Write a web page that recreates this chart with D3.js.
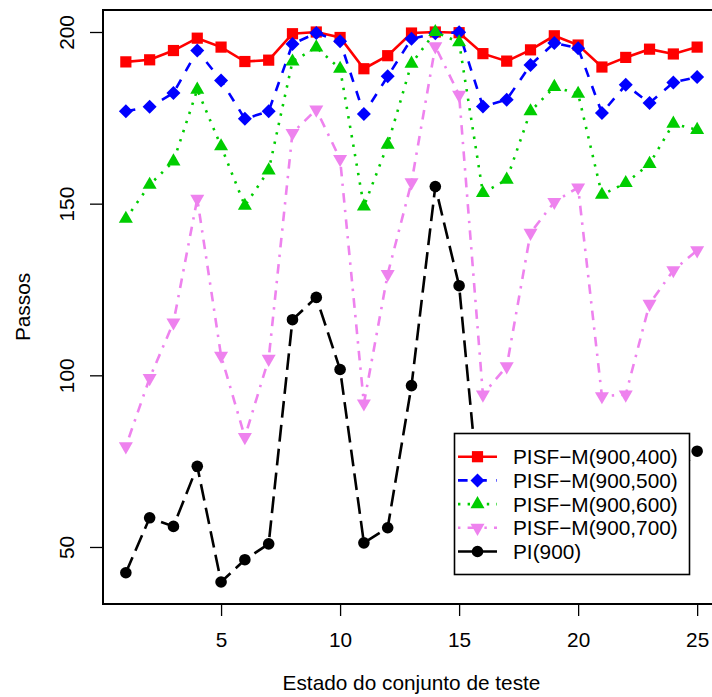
<!DOCTYPE html>
<html>
<head>
<meta charset="utf-8">
<script src="https://cdn.jsdelivr.net/npm/d3@7"></script>
<style>
  body { margin: 0; background: #fff; }
  text { font-family: "Liberation Sans", Arial, Helvetica, sans-serif; fill: #000; }
</style>
</head>
<body>
<svg id="chart"></svg>
<script>
/* dados */
const estados = d3.range(1, 26)
const pisf400 = [191.3,191.9,194.6,198.2,195.6,191.4,191.8,199.5,200,198.4,189.3,193.1,199.7,200,199.8,193.7,191.5,194.8,198.9,196.2,189.8,192.6,195,193.6,195.6]
const pisf500 = [176.9,178.2,182.2,194.6,185.9,174.7,176.9,196.5,199.7,197.3,176.1,187.1,198,199.6,199.9,178.3,180.3,190.4,196.8,195.3,176.4,184.6,179.3,185.3,186.9]
const pisf600 = [145.6,155.5,162.3,183.2,166.7,149.4,159.7,191.4,195.5,189.3,149.2,167.2,190.8,200,197,153.1,157,176.9,184,182,152.6,156,161.6,173.3,171.5]
const pisf700 = [79.3,99.2,115.4,151.4,105.7,82,104.8,170.6,177.4,163,91.8,129.5,156.2,195.8,181.7,94.4,102.6,141.5,150.5,154.7,93.9,94.4,120.8,130.6,136.4]
const pi900   = [42.5,58.5,56,73.5,39.8,46.3,50.9,116.2,122.7,101.7,51.2,55.6,97,155,126.1,53,48,55,62,58,48,50,60,70.5,77.9]

const xTicks = [5, 10, 15, 20, 25]
const yTicks = [50, 100, 150, 200]
const legendLabels = ['PISF\u2212M(900,400)', 'PISF\u2212M(900,500)', 'PISF\u2212M(900,600)', 'PISF\u2212M(900,700)', 'PI(900)']

const width = 712, height = 697
const box = {left: 103, right: 720, top: 10, bottom: 604}
const fontSize = 20.8

/* estilo de cada serie: cor, tracejado, simbolo */
const series = [
  {values: pisf400, color: '#ff0000', dash: null,           shape: 'square'},
  {values: pisf500, color: '#0000ff', dash: '9.6,9.6',      shape: 'diamond'},
  {values: pisf600, color: '#00cd00', dash: '2.4,7.2',      shape: 'up'},
  {values: pisf700, color: '#ee82ee', dash: '2.4,7.2,9.6,7.2', shape: 'down'},
  {values: pi900,   color: '#000000', dash: '16.8,7.2',     shape: 'circle'}
]

const svg = d3.select('#chart').attr('width', width).attr('height', height)
svg.append('rect').attr('width', width).attr('height', height).attr('fill', '#fff')

/* escalas no estilo do R (4% de margem) */
const allY = series.flatMap(s => s.values)
const yMin = d3.min(allY), yMax = d3.max(allY)
const yPad = (yMax - yMin) * 0.04
const xScale = d3.scaleLinear().domain([1 - 0.96, 25 + 0.96]).range([box.left, box.right])
const yScale = d3.scaleLinear().domain([yMin - yPad, yMax + yPad]).range([box.bottom, box.top])

/* simbolos */
const shapePath = (shape, cx, cy) => {
  const p = d3.path()
  if (shape === 'square') {
    const h = 5.6
    p.rect(cx - h, cy - h, 2 * h, 2 * h)
  } else if (shape === 'diamond') {
    const h = 7
    p.moveTo(cx, cy - h); p.lineTo(cx + h, cy); p.lineTo(cx, cy + h); p.lineTo(cx - h, cy); p.closePath()
  } else if (shape === 'up' || shape === 'down') {
    const s = 5.2, r = 1.555 * s, xc = 1.347 * s, yc = 0.778 * s
    const k = shape === 'up' ? 1 : -1
    p.moveTo(cx, cy - k * r); p.lineTo(cx + xc, cy + k * yc); p.lineTo(cx - xc, cy + k * yc); p.closePath()
  } else {
    p.arc(cx, cy, 5.8, 0, 2 * Math.PI)
  }
  return p.toString()
}

const line = d3.line().x((d, i) => xScale(estados[i])).y(d => yScale(d))

const plot = svg.append('g')
series.forEach(s => {
  plot.append('path')
      .attr('d', line(s.values))
      .attr('fill', 'none')
      .attr('stroke', s.color)
      .attr('stroke-width', 2.6)
      .attr('stroke-dasharray', s.dash)
  plot.selectAll(null)
      .data(s.values)
      .enter()
      .append('path')
      .attr('d', (d, i) => shapePath(s.shape, xScale(estados[i]), yScale(d)))
      .attr('fill', s.color)
})

/* caixa */
svg.append('rect')
   .attr('x', box.left).attr('y', box.top)
   .attr('width', box.right - box.left).attr('height', box.bottom - box.top)
   .attr('fill', 'none').attr('stroke', '#000').attr('stroke-width', 2)

/* eixos */
const xAxis = d3.axisBottom(xScale).tickValues(xTicks).tickSize(12).tickPadding(16)
const yAxis = d3.axisLeft(yScale).tickValues(yTicks).tickSize(13).tickFormat(d3.format('d'))

const gx = svg.append('g').attr('transform', 'translate(0,' + box.bottom + ')').call(xAxis)
gx.select('.domain').remove()
gx.selectAll('line').attr('stroke', '#000').attr('stroke-width', 1.3)
gx.selectAll('text').style('font-size', fontSize + 'px').attr('fill', '#000')

const gy = svg.append('g').attr('transform', 'translate(' + box.left + ',0)').call(yAxis)
gy.select('.domain').remove()
gy.selectAll('line').attr('stroke', '#000').attr('stroke-width', 1.3)
gy.selectAll('text')
  .style('font-size', fontSize + 'px')
  .attr('fill', '#000')
  .attr('x', null).attr('dy', null)
  .attr('text-anchor', 'middle')
  .attr('transform', 'translate(-29.5,0) rotate(-90)')

/* titulos dos eixos */
svg.append('text')
   .attr('x', (box.left + box.right) / 2)
   .attr('y', 690)
   .attr('text-anchor', 'middle')
   .style('font-size', fontSize + 'px')
   .text('Estado do conjunto de teste')

svg.append('text')
   .attr('transform', 'translate(30,' + (box.top + box.bottom) / 2 + ') rotate(-90)')
   .attr('text-anchor', 'middle')
   .style('font-size', fontSize + 'px')
   .text('Passos')

/* legenda */
const leg = {x: 454.5, y: 433.5, w: 235, h: 141, row: 23.7, first: 456.7}
const gl = svg.append('g')
gl.append('rect')
  .attr('x', leg.x).attr('y', leg.y).attr('width', leg.w).attr('height', leg.h)
  .attr('fill', '#fff').attr('stroke', '#000').attr('stroke-width', 1.6)

series.forEach((s, i) => {
  const cy = leg.first + i * leg.row
  gl.append('line')
    .attr('x1', 458).attr('x2', 497).attr('y1', cy).attr('y2', cy)
    .attr('stroke', s.color).attr('stroke-width', 2.6)
    .attr('stroke-dasharray', s.dash)
  gl.append('path').attr('d', shapePath(s.shape, 477.5, cy)).attr('fill', s.color)
  gl.append('text')
    .attr('x', 513).attr('y', cy)
    .attr('dy', '0.36em')
    .style('font-size', fontSize + 'px')
    .text(legendLabels[i])
})
</script>
</body>
</html>
